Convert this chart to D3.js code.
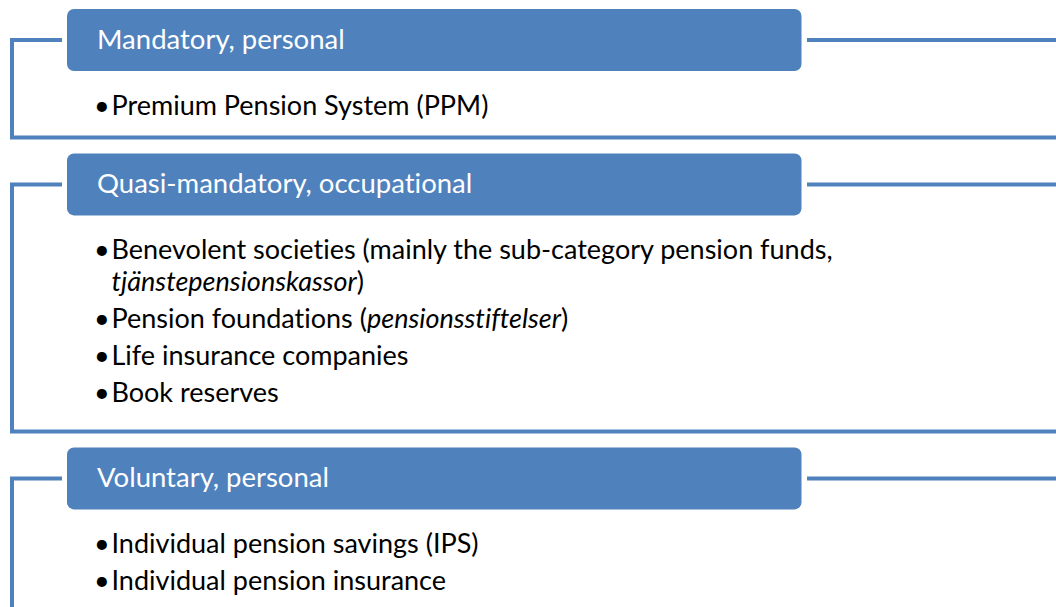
<!DOCTYPE html>
<html>
<head>
<meta charset="utf-8">
<script src="https://cdn.jsdelivr.net/npm/d3@7"></script>
<style>
  html, body { margin: 0; padding: 0; background: #fff; }
  svg { display: block; }
  text { font-variant-ligatures: none; font-feature-settings: "liga" 0, "clig" 0; }
</style>
</head>
<body>
<svg id="chart" width="1056" height="607"></svg>
<script>
// ---- Data ----
const headers = ["Mandatory, personal", "Quasi-mandatory, occupational", "Voluntary, personal"];
// each group: list of bullet paragraphs; each paragraph: list of lines; _text_ marks italic
const group1Items = [["Premium Pension System (PPM)"]];
const group2Items = [
  ["Benevolent societies (mainly the sub-category pension funds,", "_tjänstepensionskassor_)"],
  ["Pension foundations (_pensionsstiftelser_)"],
  ["Life insurance companies"],
  ["Book reserves"]
];
const group3Items = [["Individual pension savings (IPS)"], ["Individual pension insurance"]];
const groupItems = [group1Items, group2Items, group3Items];

// ---- Layout / style ----
const W = 1056, H = 607;
const blue = "#4F81BD";
const fontFamily = "Lato, 'Open Sans', sans-serif";
const L = {
  top: 9, headerX: 67, headerW: 734.5, headerH: 62, rx: 7,
  bracketX: 12, bracketStubEnd: 62, rightStart: 807,
  firstBaseline: 106, lineStep: 32, paraStep: 37,
  bottomBase: 60, bottomPerLine: 37.4, groupGap: 16,
  bulletX: 94, textX: 111.5, headerTextX: 97, headerBaselineOff: 9,
  headerFont: 27.5, bodyFont: 27, stroke: 4
};

const svg = d3.select("#chart");

function addSegments(textSel, line) {
  const parts = line.split("_");
  parts.forEach((p, i) => {
    if (!p) return;
    textSel.append("tspan").attr("font-style", i % 2 === 1 ? "italic" : "normal").text(p);
  });
}

let y = L.top;
headers.forEach((h, gi) => {
  const g = svg.append("g");
  const mid = y + L.headerH / 2;
  const paras = groupItems[gi];
  const nLines = d3.sum(paras, p => p.length);
  const bottom = mid + L.bottomBase + L.bottomPerLine * nLines;
  const isLast = gi === headers.length - 1;

  // bracket
  const bracket = d3.path();
  bracket.moveTo(L.bracketStubEnd, mid);
  bracket.lineTo(L.bracketX, mid);
  bracket.lineTo(L.bracketX, isLast ? H + 10 : bottom);
  if (!isLast) bracket.lineTo(W + 10, bottom);
  g.append("path").attr("d", bracket.toString())
    .attr("fill", "none").attr("stroke", blue).attr("stroke-width", L.stroke)
    .attr("stroke-linejoin", "miter");
  // right line
  g.append("line").attr("x1", L.rightStart).attr("x2", W + 10)
    .attr("y1", mid).attr("y2", mid)
    .attr("stroke", blue).attr("stroke-width", L.stroke);

  // header box
  g.append("rect").attr("x", L.headerX).attr("y", y)
    .attr("width", L.headerW).attr("height", L.headerH)
    .attr("rx", L.rx).attr("fill", blue);
  g.append("text").attr("x", L.headerTextX).attr("y", mid + L.headerBaselineOff)
    .attr("fill", "#fff").attr("font-family", fontFamily).attr("font-size", L.headerFont)
    .text(h);

  // bullets
  let by = y + L.firstBaseline;
  paras.forEach((para, pi) => {
    if (pi > 0) by += L.paraStep - L.lineStep;
    g.append("text").attr("x", L.bulletX).attr("y", by)
      .attr("font-family", fontFamily).attr("font-size", L.bodyFont).attr("fill", "#000")
      .text("•");
    para.forEach((line, li) => {
      if (li > 0) by += L.lineStep;
      const t = g.append("text").attr("x", L.textX).attr("y", by)
        .attr("font-family", fontFamily).attr("font-size", L.bodyFont).attr("fill", "#000");
      addSegments(t, line);
    });
    by += L.lineStep;
  });

  y = bottom + L.groupGap;
});
</script>
</body>
</html>
